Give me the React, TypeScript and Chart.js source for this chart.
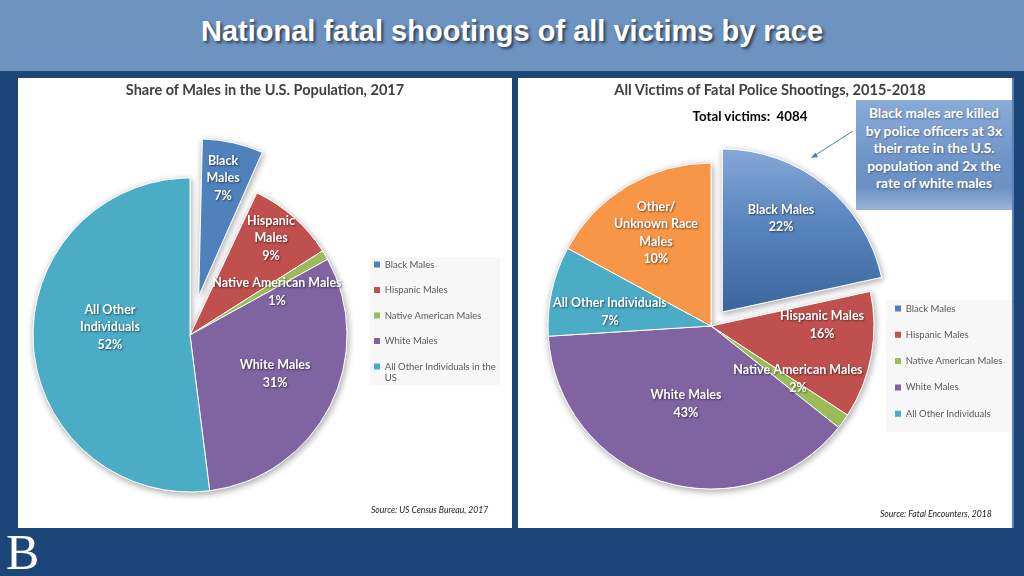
import React, { useEffect, useRef } from "react";
import { Chart, registerables } from "chart.js";

Chart.register(...registerables);

// ---------------- DATA ----------------
// Left chart: share of males in the U.S. population, 2017
const popCategories = [
  "Black Males",
  "Hispanic Males",
  "Native American Males",
  "White Males",
  "All Other Individuals in the US",
];
const popShares = [7, 9, 1, 31, 52];
const popSliceNames = [["Black", "Males"], ["Hispanic", "Males"], ["Native American Males"], ["White Males"], ["All Other", "Individuals"]];
const popSlicePercents = ["7%", "9%", "1%", "31%", "52%"];
const popLegendText = [["Black Males"], ["Hispanic Males"], ["Native American Males"], ["White Males"], ["All Other Individuals in the", "US"]];

// Right chart: all victims of fatal police shootings, 2015-2018
const victimCategories = [
  "Black Males",
  "Hispanic Males",
  "Native American Males",
  "White Males",
  "All Other Individuals",
  "Other/Unknown Race Males",
];
// slice sizes as drawn in the reference (percent of circle)
const victimShares = [21.6, 12.6, 1.5, 38.3, 8.9, 17.1];
const victimSliceNames = [["Black Males"], ["Hispanic Males"], ["Native American Males"], ["White Males"], ["All Other Individuals"], ["Other/", "Unknown Race", "Males"]];
const victimSlicePercents = ["22%", "16%", "2%", "43%", "7%", "10%"];
const victimLegendText = [["Black Males"], ["Hispanic Males"], ["Native American Males"], ["White Males"], ["All Other Individuals"]];
const totalVictims = 4084;

const sliceColors = ["#4f81bd", "#c0504d", "#9bbb59", "#8064a2", "#4bacc6", "#f79646"];

// ---------------- PLUGINS ----------------
const shadowPlugin = {
  id: "sliceShadow",
  beforeDatasetsDraw(chart: any) {
    const ctx = chart.ctx;
    const meta = chart.getDatasetMeta(0);
    ctx.save();
    ctx.shadowColor = "rgba(0,0,0,0.35)";
    ctx.shadowBlur = 7;
    ctx.shadowOffsetX = 1;
    ctx.shadowOffsetY = 2;
    meta.data.forEach((a: any) => a.draw(ctx));
    ctx.restore();
  },
};

const placePlugin = {
  id: "place",
  afterLayout(chart: any, _args: any, opts: any) {
    const L = chart.legend;
    const lab = chart.options.plugins.legend.labels;
    const fs = lab.font.size;
    if (L) {
      L.left = opts.boxX - lab.padding;
      L.top = opts.firstY - fs / 2 - lab.padding;
      L.right = chart.width;
      L.bottom = chart.height;
      L.width = L.right - L.left;
      L.height = L.bottom - L.top;
    }
    const ca = chart.chartArea;
    const R = opts.radius;
    ca.left = opts.cx - R;
    ca.right = opts.cx + R;
    ca.top = opts.cy - R;
    ca.bottom = opts.cy + R;
    ca.width = 2 * R;
    ca.height = 2 * R;
  },
  afterDatasetsUpdate(chart: any, _args: any, opts: any) {
    // keep the exploded slice at the same radius as the others (pure shift)
    const arc = chart.getDatasetMeta(0).data[0];
    if (!arc) return;
    const fix = 1 - Math.sin(Math.min(Math.PI, arc.circumference || 0));
    arc.outerRadius = opts.radius - opts.explode * fix;
  },
  beforeDraw(chart: any, _args: any, opts: any) {
    const ctx = chart.ctx;
    const b = opts.legendBg;
    ctx.save();
    ctx.fillStyle = "#f7f7f7";
    ctx.fillRect(b[0], b[1], b[2], b[3]);
    ctx.restore();
  },
};

const labelPlugin = {
  id: "sliceLabels",
  afterDatasetsDraw(chart: any, _args: any, opts: any) {
    const ctx = chart.ctx;
    const meta = chart.getDatasetMeta(0);
    meta.data.forEach((arc: any, i: number) => {
      const { x, y } = arc.getProps(["x", "y"], true);
      const R = opts.radius;
      const p = opts.place[i];
      const a = (p[1] * Math.PI) / 180;
      const cx = x + R * p[0] * Math.sin(a);
      const cy = y - R * p[0] * Math.cos(a);
      const lines = [...opts.names[i], opts.percents[i]];
      const lh = 17.5;
      const y0 = cy - ((lines.length - 1) * lh) / 2;
      ctx.save();
      ctx.font = "bold 12.5px Lato, sans-serif";
      ctx.fillStyle = "#ffffff";
      ctx.textAlign = "center";
      ctx.textBaseline = "middle";
      ctx.shadowColor = "rgba(0,0,0,0.55)";
      ctx.shadowBlur = 2;
      ctx.shadowOffsetX = 1;
      ctx.shadowOffsetY = 1;
      lines.forEach((t: string, k: number) => ctx.fillText(t, cx, y0 + k * lh));
      ctx.restore();
    });
  },
};

function makeConfig(p: any) {
  return {
    type: "pie",
    data: {
      labels: p.categories,
      datasets: [
        {
          data: p.values,
          backgroundColor: (c: any) => {
            const base = sliceColors[c.dataIndex];
            if (c.type !== "data" || c.dataIndex !== 0 || !p.gradient) return base;
            const ca = c.chart.chartArea;
            if (!ca) return base;
            const cy = (ca.top + ca.bottom) / 2;
            const g = c.chart.ctx.createLinearGradient(0, cy - p.radius - 20, 0, cy);
            g.addColorStop(0, "#92b1dc");
            g.addColorStop(0.5, "#5a86c0");
            g.addColorStop(1, "#3a659c");
            return g;
          },
          borderColor: "#ffffff",
          borderWidth: 1,
          offset: p.values.map((_: number, i: number) => (i === 0 ? p.explode * 4 : 0)),
          hoverOffset: 0,
          radius: p.radius,
          clip: false,
        },
      ],
    },
    options: {
      responsive: false,
      animation: false,
      events: [],
      layout: { padding: 0 },
      plugins: {
        tooltip: { enabled: false },
        title: { display: false },
        legend: {
          display: true,
          position: "right",
          align: "start",
          labels: {
            boxWidth: 6,
            boxHeight: 6,
            padding: p.legendPad,
            font: { family: "Lato, sans-serif", size: 9.5 },
            color: "#595959",
            generateLabels: () =>
              p.legendText.map((t: string[], i: number) => ({
                text: t.length > 1 ? t : t[0],
                fillStyle: sliceColors[i],
                strokeStyle: sliceColors[i],
                fontColor: "#595959",
                lineWidth: 0,
                hidden: false,
                index: i,
              })),
          },
        },
        place: { cx: p.cx, cy: p.cy, radius: p.radius, explode: p.explode, boxX: p.boxX, firstY: p.firstY, legendBg: p.legendBg },
        sliceLabels: { place: p.labelPlace, names: p.names, percents: p.percents, radius: p.radius },
      },
    },
    plugins: [placePlugin, shadowPlugin, labelPlugin],
  };
}

function PieCanvas({ config, width, height }: any) {
  const ref = useRef<HTMLCanvasElement>(null);
  useEffect(() => {
    const chart = new Chart(ref.current as HTMLCanvasElement, config as any);
    return () => chart.destroy();
  }, []);
  return (
    <canvas
      ref={ref}
      width={width}
      height={height}
      style={{ position: "absolute", left: 0, top: 0, width, height }}
    />
  );
}

const leftConfig = makeConfig({
  categories: popCategories,
  values: popShares,
  names: popSliceNames,
  percents: popSlicePercents,
  legendText: popLegendText,
  cx: 172,
  cy: 257,
  radius: 157,
  explode: 40,
  gradient: false,
  boxX: 356,
  firstY: 186.5,
  legendPad: 16.0,
  legendBg: [352, 179, 130, 128],
  labelPlace: [
    [1.02, 11.9],
    [0.805, 39.9],
    [0.618, 63.7],
    [0.596, 114.6],
    [0.512, 275.4],
  ],
});

const rightConfig = makeConfig({
  categories: victimCategories,
  values: victimShares,
  names: victimSliceNames,
  percents: victimSlicePercents,
  legendText: victimLegendText,
  cx: 193,
  cy: 248,
  radius: 163,
  explode: 18,
  gradient: true,
  boxX: 377,
  firstY: 230.5,
  legendPad: 16.8,
  legendBg: [368, 222, 126, 132],
  labelPlace: [
    [0.787, 33.1],
    [0.681, 89.5],
    [0.625, 121.4],
    [0.502, 197.8],
    [0.626, 277.9],
    [0.663, 329.4],
  ],
});

export default function App() {
  const panelTitle: React.CSSProperties = {
    position: "absolute",
    top: 3,
    left: 0,
    width: "100%",
    textAlign: "center",
    font: "bold 14.5px Lato, sans-serif",
    lineHeight: "18px",
    color: "#404040",
    whiteSpace: "nowrap",
  };
  const source: React.CSSProperties = {
    position: "absolute",
    font: "italic 8.6px Lato, sans-serif",
    color: "#222",
    whiteSpace: "nowrap",
  };
  return (
    <div
      style={{
        position: "fixed",
        left: 0,
        top: 0,
        width: 1024,
        height: 576,
        background: "#1d4678",
        overflow: "hidden",
        fontFamily: "Lato, sans-serif",
      }}
    >
      <div style={{ position: "absolute", left: 0, top: 0, width: 1024, height: 71, background: "#6d93c1" }}>
        <div
          style={{
            position: "absolute",
            left: 0,
            top: 12,
            width: 1024,
            textAlign: "center",
            font: "bold 29px 'Liberation Sans Narrow', 'Liberation Sans', sans-serif",
            lineHeight: "38px",
            color: "#ffffff",
            textShadow: "2px 2px 3px rgba(0,0,0,0.6)",
          }}
        >
          National fatal shootings of all victims by race
        </div>
      </div>

      <div style={{ position: "absolute", left: 18, top: 78, width: 494, height: 450, background: "#ffffff" }}>
        <PieCanvas config={leftConfig} width={494} height={450} />
        <div style={panelTitle}>Share of Males in the U.S. Population, 2017</div>
        <div style={{ ...source, left: 353, top: 427 }}>Source: US Census Bureau, 2017</div>
      </div>

      <div
        style={{
          position: "absolute",
          left: 518,
          top: 78,
          width: 496,
          height: 450,
          background: "#ffffff",
          boxSizing: "border-box",
          borderRight: "2px solid #5b82b3",
        }}
      >
        <PieCanvas config={rightConfig} width={494} height={450} />
        <div style={{ ...panelTitle, left: 5, fontSize: 14.6 }}>All Victims of Fatal Police Shootings, 2015-2018</div>
        <div
          style={{
            position: "absolute",
            left: 132,
            top: 29,
            width: 200,
            textAlign: "center",
            font: "bold 13.3px Lato, sans-serif",
            lineHeight: "18px",
            color: "#000",
            whiteSpace: "pre",
          }}
        >
          {"Total victims:  " + totalVictims}
        </div>
        <div
          style={{
            position: "absolute",
            left: 338,
            top: 22,
            width: 156,
            height: 110,
            boxSizing: "border-box",
            paddingTop: 4,
            background: "linear-gradient(to bottom, #8aabd8 0%, #6e95c8 55%, #6b91c4 80%, #9ab4d8 100%)",
            color: "#ffffff",
            font: "bold 13.7px Lato, sans-serif",
            lineHeight: "17.5px",
            textAlign: "center",
            textShadow: "1px 1px 2px rgba(0,0,0,0.35)",
            whiteSpace: "nowrap",
          }}
        >
          Black males are killed
          <br />
          by police officers at 3x
          <br />
          their rate in the U.S.
          <br />
          population and 2x the
          <br />
          rate of white males
        </div>
        <svg style={{ position: "absolute", left: 0, top: 0 }} width={496} height={200}>
          <line x1={335} y1={53} x2={296} y2={78} stroke="#4a7ebb" strokeWidth={1} />
          <polygon points="293,80 297.5,74.5 300,79" fill="#4a7ebb" />
        </svg>
        <div style={{ ...source, left: 362, top: 431 }}>Source: Fatal Encounters, 2018</div>
      </div>

      <div
        style={{
          position: "absolute",
          left: 6,
          top: 525,
          font: "50px 'Liberation Serif', serif",
          color: "#ffffff",
          lineHeight: "54px",
        }}
      >
        B
      </div>
    </div>
  );
}
